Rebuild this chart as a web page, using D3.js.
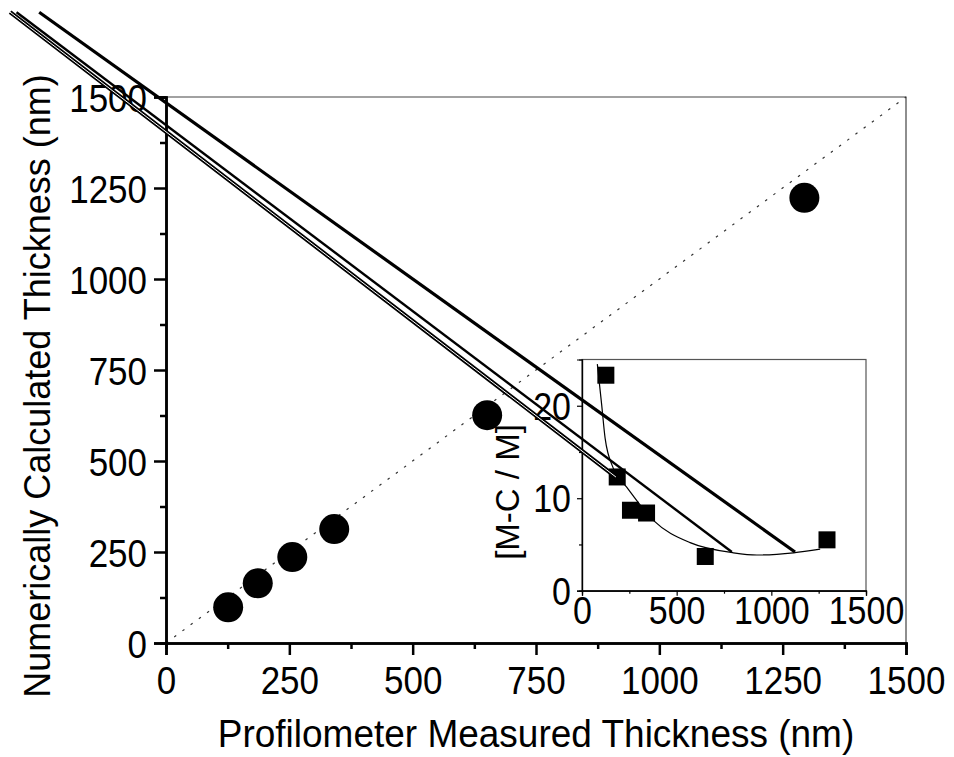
<!DOCTYPE html>
<html>
<head>
<meta charset="utf-8">
<script src="https://cdn.jsdelivr.net/npm/d3@7"></script>
<style>
  body { margin: 0; background: #fff; }
  svg text { font-family: "Liberation Sans", Arial, sans-serif; fill: #000; }
  .stretch { transform-box: fill-box; transform-origin: center; transform: scaleY(1.12); }
  .stretch-s { transform-box: fill-box; transform-origin: center; transform: scaleY(1.05); }
</style>
</head>
<body>
<svg id="chart" width="954" height="757"></svg>
<script>
// measured vs numerically calculated thickness (nm)
const measured = [126, 186, 256, 341, 651, 1294];
const calculated = [98, 164, 236, 313, 626, 1223];
// inset: |M - C| / M (%)
const ratio = [23.3, 12.3, 8.7, 8.4, 3.7, 5.5];
// inset fitted curve
const fitX = [81, 104, 122, 166, 236, 377, 571, 800, 924, 1117, 1258];
const fitY = [24.5, 20.1, 16.5, 13.2, 11.2, 7.6, 5.2, 4.1, 3.86, 4.1, 4.5];
// the three long marker lines (main-axis units, they run outside the frame)
const lineStartX = [-257, -303, -316];
const lineStartY = [1733, 1733, 1733];
const lineEndX = [1275, 1147, 912];
const lineEndY = [250, 250, 456];

const mainTicks = [0, 250, 500, 750, 1000, 1250, 1500];
const mainMinor = [125, 375, 625, 875, 1125, 1375];
const insetXTicks = [0, 500, 1000, 1500];
const insetXMinor = [250, 750, 1250];
const insetYTicks = [0, 10, 20];
const insetYMinor = [5, 15];

const svg = d3.select('#chart');

const x = d3.scaleLinear().domain([0, 1500]).range([166, 906]);
const y = d3.scaleLinear().domain([0, 1500]).range([643, 97]);

const ix = d3.scaleLinear().domain([0, 1500]).range([582, 866]);
const iy = d3.scaleLinear().domain([0, 25]).range([590.7, 359.5]);

// frame (top / right thin)
svg.append('path')
  .attr('d', `M${x(0)},${y(1500)}H${x(1500)}V${y(0)}`)
  .attr('fill', 'none')
  .attr('stroke', '#444')
  .attr('stroke-width', 1.2);

// diagonal y = x
svg.append('line')
  .attr('x1', x(0)).attr('y1', y(0))
  .attr('x2', x(1500)).attr('y2', y(1500))
  .attr('stroke', '#333')
  .attr('stroke-width', 1.2)
  .attr('stroke-dasharray', '2.5,7.7');

// main axes
const xAxis = svg.append('g')
  .attr('transform', 'translate(0,' + y(0) + ')')
  .call(d3.axisBottom(x).tickValues(mainTicks).tickSize(12).tickFormat(d3.format('d')));
svg.append('g')
  .attr('transform', 'translate(0,' + y(0) + ')')
  .call(d3.axisBottom(x).tickValues(mainMinor).tickSize(6).tickFormat(''));
const yAxis = svg.append('g')
  .attr('transform', 'translate(' + x(0) + ',0)')
  .call(d3.axisLeft(y).tickValues(mainTicks).tickSize(12).tickFormat(d3.format('d')));
svg.append('g')
  .attr('transform', 'translate(' + x(0) + ',0)')
  .call(d3.axisLeft(y).tickValues(mainMinor).tickSize(6).tickFormat(''));

svg.selectAll('.domain').attr('stroke', '#000').attr('stroke-width', 2.5);
svg.selectAll('.tick line').attr('stroke', '#000').attr('stroke-width', 2.5);

xAxis.selectAll('.tick text')
  .attr('class', 'stretch')
  .attr('y', 50).attr('dy', null)
  .style('font-size', '35px');
yAxis.selectAll('.tick text')
  .attr('class', 'stretch')
  .attr('x', -19).attr('dy', '0.36em')
  .style('font-size', '35px');

// axis titles
svg.append('text')
  .attr('class', 'stretch-s')
  .attr('x', 536).attr('y', 746)
  .attr('text-anchor', 'middle')
  .style('font-size', '37px')
  .text('Profilometer Measured Thickness (nm)');

svg.append('text')
  .attr('transform', 'translate(50,386) rotate(-90)')
  .attr('text-anchor', 'middle')
  .style('font-size', '36px')
  .text('Numerically Calculated Thickness (nm)');

// data circles
svg.selectAll('.dot')
  .data(measured)
  .enter().append('circle')
  .attr('class', 'dot')
  .attr('cx', d => x(d))
  .attr('cy', (d, i) => y(calculated[i]))
  .attr('r', 15)
  .attr('fill', '#000');

// ---- inset ----
const inset = svg.append('g');

inset.append('rect')
  .attr('x', ix(0)).attr('y', iy(25))
  .attr('width', ix(1500) - ix(0)).attr('height', iy(0) - iy(25))
  .attr('fill', '#fff')
  .attr('stroke', '#555')
  .attr('stroke-width', 1.2);

const ixAxis = inset.append('g')
  .attr('transform', 'translate(0,' + iy(0) + ')')
  .call(d3.axisBottom(ix).tickValues(insetXTicks).tickSize(5).tickFormat(d3.format('d')));
inset.append('g')
  .attr('transform', 'translate(0,' + iy(0) + ')')
  .call(d3.axisBottom(ix).tickValues(insetXMinor).tickSize(3).tickFormat(''));
const iyAxis = inset.append('g')
  .attr('transform', 'translate(' + ix(0) + ',0)')
  .call(d3.axisLeft(iy).tickValues(insetYTicks).tickSize(5).tickFormat(d3.format('d')));
inset.append('g')
  .attr('transform', 'translate(' + ix(0) + ',0)')
  .call(d3.axisLeft(iy).tickValues(insetYMinor).tickSize(3).tickFormat(''));

inset.selectAll('.domain').attr('stroke', '#000').attr('stroke-width', 1.2);
inset.selectAll('.tick line').attr('stroke', '#000').attr('stroke-width', 1.2);

ixAxis.selectAll('.tick text')
  .attr('class', 'stretch')
  .attr('y', 32).attr('dy', null)
  .style('font-size', '34px');
iyAxis.selectAll('.tick text')
  .attr('class', 'stretch')
  .attr('x', -11).attr('dy', '0.36em')
  .style('font-size', '34px');

inset.append('text')
  .attr('transform', 'translate(519,492) rotate(-90)')
  .attr('text-anchor', 'middle')
  .style('font-size', '33px')
  .text('[M-C / M]');

// fitted curve
const fit = fitX.map((d, i) => [d, fitY[i]]);
inset.append('path')
  .datum(fit)
  .attr('fill', 'none')
  .attr('stroke', '#000')
  .attr('stroke-width', 1.2)
  .attr('d', d3.line().x(d => ix(d[0])).y(d => iy(d[1])).curve(d3.curveMonotoneX));

inset.selectAll('.sq')
  .data(measured)
  .enter().append('rect')
  .attr('class', 'sq')
  .attr('x', d => ix(d) - 8.5)
  .attr('y', (d, i) => iy(ratio[i]) - 8.5)
  .attr('width', 17).attr('height', 17)
  .attr('fill', '#000');

// long marker lines on top of everything
const widths = [3.2, 2.4, 4.2];
lineStartX.forEach((d, i) => {
  svg.append('line')
    .attr('x1', x(d)).attr('y1', y(lineStartY[i]))
    .attr('x2', x(lineEndX[i])).attr('y2', y(lineEndY[i]))
    .attr('stroke', '#000')
    .attr('stroke-width', widths[i]);
});
// the lowest line is drawn as a double stroke
svg.append('line')
  .attr('x1', x(lineStartX[2])).attr('y1', y(lineStartY[2]))
  .attr('x2', x(lineEndX[2])).attr('y2', y(lineEndY[2]))
  .attr('stroke', '#fff')
  .attr('stroke-width', 1);
</script>
</body>
</html>
